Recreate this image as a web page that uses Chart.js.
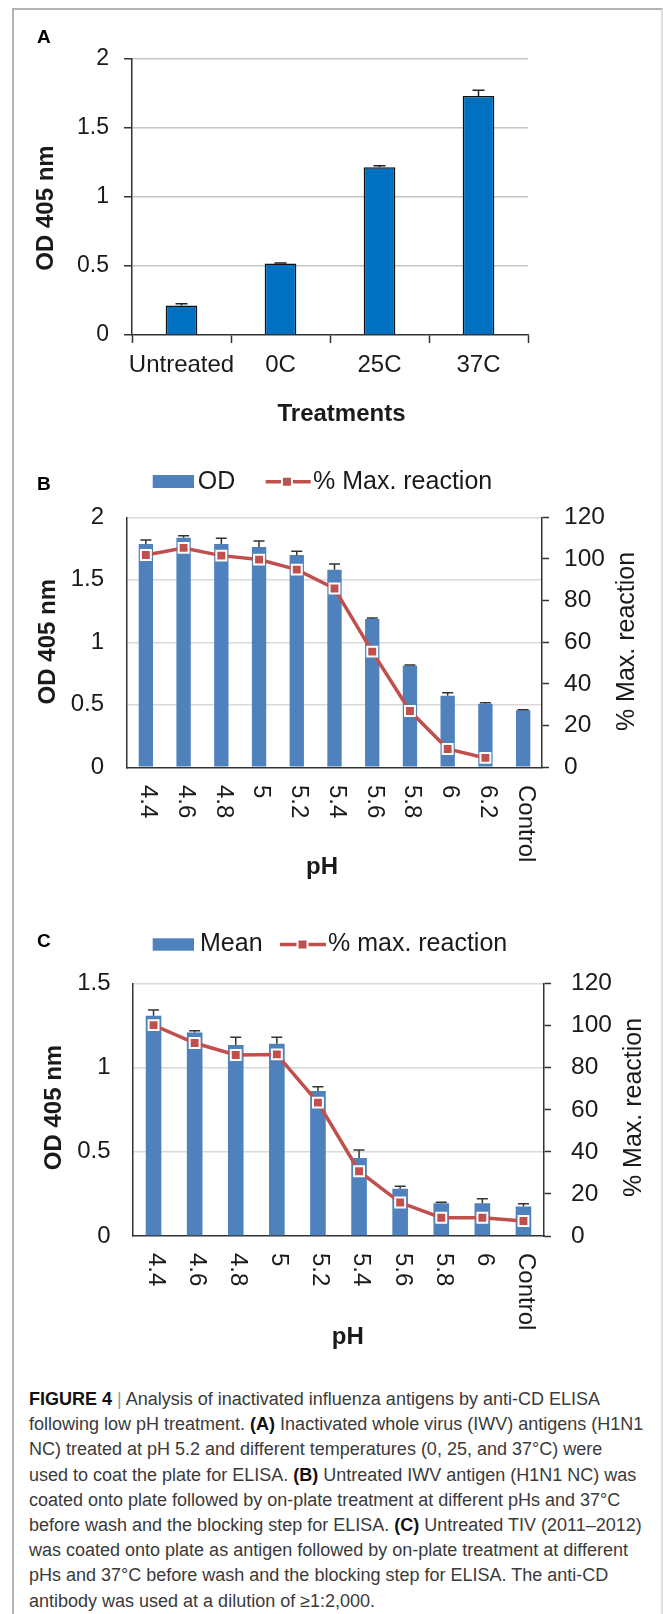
<!DOCTYPE html>
<html>
<head>
<meta charset="utf-8">
<script src="https://cdn.jsdelivr.net/npm/chart.js@4.4.1/dist/chart.umd.min.js"></script>
<style>
  html, body { margin: 0; padding: 0; background: #fff; }
  body { width: 663px; height: 1614px; position: relative; overflow: hidden; font-family: "Liberation Sans", Arial, sans-serif; }
  .frame { position: absolute; left: 12px; top: 8px; width: 647px; height: 1700px; border-left: 2px solid #b4b4b4; border-top: 2px solid #b4b4b4; border-right: 2px solid #dedede; }
  .panel { position: absolute; left: 0; width: 663px; }
  .panel canvas { display: block; }
  .tag { position: absolute; left: 37px; font: bold 19px/19px "Liberation Sans", Arial, sans-serif; color: #000; }
  .caption { position: absolute; left: 29px; top: 1387px; font-size: 18px; line-height: 25.2px; color: #3a3a3a; white-space: nowrap; }
  .caption b { color: #111; }
  .caption .sep { color: #999; }
</style>
</head>
<body>
<div class="frame"></div>

<div class="panel" style="top:0"><canvas id="chartA" width="663" height="440"></canvas></div>
<div class="panel" style="top:440px"><canvas id="chartB" width="663" height="460"></canvas></div>
<div class="panel" style="top:900px"><canvas id="chartC" width="663" height="470"></canvas></div>

<div class="tag" style="top:26.5px">A</div>
<div class="tag" style="top:474px">B</div>
<div class="tag" style="top:930.5px">C</div>

<div class="caption"><b>FIGURE 4</b> <span class="sep">|</span> Analysis of inactivated influenza antigens by anti-CD ELISA<br>
following low pH treatment. <b>(A)</b> Inactivated whole virus (IWV) antigens (H1N1<br>
NC) treated at pH 5.2 and different temperatures (0, 25, and 37°C) were<br>
used to coat the plate for ELISA. <b>(B)</b> Untreated IWV antigen (H1N1 NC) was<br>
coated onto plate followed by on-plate treatment at different pHs and 37°C<br>
before wash and the blocking step for ELISA. <b>(C)</b> Untreated TIV (2011–2012)<br>
was coated onto plate as antigen followed by on-plate treatment at different<br>
pHs and 37°C before wash and the blocking step for ELISA. The anti-CD<br>
antibody was used at a dilution of ≥1:2,000.</div>

<script>
// Panel A
const treatments = ['Untreated', '0C', '25C', '37C'];
const odA = [0.213, 0.519, 1.215, 1.732];
const errA = [0.014, 0.003, 0.012, 0.041];
const odTicksA = [0, 0.5, 1, 1.5, 2];

// Panel B
const phB = ['4.4', '4.6', '4.8', '5', '5.2', '5.4', '5.6', '5.8', '6', '6.2', 'Control'];
const odB = [1.787, 1.837, 1.787, 1.763, 1.699, 1.581, 1.187, 0.813, 0.573, 0.509, 0.456];
const errB = [0.032, 0.016, 0.045, 0.048, 0.029, 0.046, 0.008, 0.006, 0.024, 0.008, 0.005];
const pctB = [101.9, 105.3, 101.6, 99.7, 94.9, 85.8, 55.5, 27.0, 8.8, 4.5, null];
const seriesB = ['OD', '% Max. reaction'];
const odTicksB = [0, 0.5, 1, 1.5, 2];

// Panel C
const phC = ['4.4', '4.6', '4.8', '5', '5.2', '5.4', '5.6', '5.8', '6', 'Control'];
const meanC = [1.309, 1.209, 1.134, 1.142, 0.861, 0.464, 0.281, 0.195, 0.195, 0.175];
const errC = [0.034, 0.010, 0.047, 0.039, 0.026, 0.047, 0.014, 0.006, 0.027, 0.016];
const pctC = [100.2, 91.7, 86.0, 86.3, 63.4, 30.8, 15.9, 8.7, 8.7, 7.1];
const seriesC = ['Mean', '% max. reaction'];
const odTicksC = [0, 0.5, 1, 1.5];

const pctTicks = [0, 20, 40, 60, 80, 100, 120];

const FONT = '"Liberation Sans", Arial, sans-serif';
const AXIS = '#333';
const TEXT = '#1a1a1a';
Chart.defaults.font.family = FONT;
Chart.defaults.color = TEXT;

// plain numbers like the original: 0, 0.5, 1, 1.5, 2
const plainTick = v => String(Math.round(v * 100) / 100);

// error bars (upper only) drawn right after the bar dataset
const errorBars = {
  id: 'errorBars',
  afterDatasetDraw(chart, args, opts) {
    if (args.index !== opts.dataset) return;
    const meta = args.meta;
    const yScale = chart.scales[meta.yAxisID];
    const values = chart.data.datasets[args.index].data;
    const ctx = chart.ctx;
    ctx.save();
    ctx.strokeStyle = opts.color || '#333';
    ctx.lineWidth = opts.width || 1.5;
    meta.data.forEach((bar, i) => {
      const err = opts.errors[i];
      if (!err) return;
      const top = yScale.getPixelForValue(values[i] + err);
      ctx.beginPath();
      ctx.moveTo(bar.x, bar.y);
      ctx.lineTo(bar.x, top);
      ctx.moveTo(bar.x - opts.cap, top);
      ctx.lineTo(bar.x + opts.cap, top);
      ctx.stroke();
    });
    ctx.restore();
  }
};

// axis titles, clockwise category labels and legend
const decor = {
  id: 'decor',
  afterDraw(chart, args, opts) {
    const ctx = chart.ctx;
    const area = chart.chartArea;
    ctx.save();

    if (opts.rotLabels) {
      const xs = chart.scales.x;
      ctx.font = '24px ' + FONT;
      ctx.fillStyle = TEXT;
      ctx.textAlign = 'left';
      ctx.textBaseline = 'middle';
      xs.ticks.forEach((t, i) => {
        ctx.save();
        ctx.translate(xs.getPixelForTick(i) + opts.rotLabels.dx, area.bottom + opts.rotLabels.gap);
        ctx.rotate(Math.PI / 2);
        ctx.fillText(xs.getLabelForValue(t.value), 0, 0);
        ctx.restore();
      });
    }

    (opts.titles || []).forEach(t => {
      ctx.save();
      ctx.font = t.font;
      ctx.fillStyle = TEXT;
      ctx.textAlign = 'center';
      ctx.textBaseline = t.baseline || 'middle';
      ctx.translate(t.x, t.y);
      if (t.rot) ctx.rotate(t.rot);
      ctx.fillText(t.text, 0, 0);
      ctx.restore();
    });

    (opts.legend || []).forEach(it => {
      const ds = chart.data.datasets[it.ds];
      if (it.kind === 'box') {
        ctx.fillStyle = ds.backgroundColor;
        ctx.fillRect(it.x, it.y, it.w, it.h);
      } else {
        ctx.strokeStyle = ds.borderColor;
        ctx.lineWidth = ds.borderWidth;
        ctx.beginPath();
        ctx.moveTo(it.x0, it.y);
        ctx.lineTo(it.x1, it.y);
        ctx.stroke();
        const s = 10;
        ctx.fillStyle = ds.pointBackgroundColor;
        ctx.strokeStyle = ds.pointBorderColor;
        ctx.lineWidth = ds.pointBorderWidth;
        ctx.beginPath();
        ctx.rect(it.mx - s / 2, it.y - s / 2, s, s);
        ctx.fill();
        ctx.stroke();
      }
      ctx.font = '25px ' + FONT;
      ctx.fillStyle = TEXT;
      ctx.textAlign = 'left';
      ctx.textBaseline = 'middle';
      ctx.fillText(ds.label, it.tx, it.ty);
    });

    ctx.restore();
  }
};

const base = {
  responsive: false,
  animation: false,
  events: []
};

const gridColor = light => c => (c.tick && c.tick.value === 0) ? 'rgba(0,0,0,0)' : light;

// ---- A ----
new Chart(document.getElementById('chartA'), {
  type: 'bar',
  data: {
    labels: treatments,
    datasets: [{
      label: 'OD',
      data: odA,
      backgroundColor: '#0070C0',
      borderColor: '#111',
      borderWidth: 1.5,
      barPercentage: 0.32,
      categoryPercentage: 1
    }]
  },
  options: {
    ...base,
    layout: { padding: { top: 59, left: 0, right: 135, bottom: 45 } },
    scales: {
      x: {
        grid: { drawOnChartArea: false, offset: true, tickLength: 8, tickColor: AXIS, tickWidth: 1.5 },
        border: { color: AXIS, width: 1.5 },
        ticks: { font: { size: 24 }, color: TEXT, padding: 8, minRotation: 0, maxRotation: 0, autoSkip: false },
        afterFit: s => { s.height = 60; }
      },
      y: {
        min: odTicksA[0],
        max: odTicksA[odTicksA.length - 1],
        ticks: { stepSize: odTicksA[1] - odTicksA[0], font: { size: 23 }, color: TEXT, padding: 15, callback: plainTick },
        grid: { color: gridColor('#c4c4c4'), lineWidth: 1.5, tickLength: 8, tickColor: AXIS, tickWidth: 1.5 },
        border: { color: AXIS, width: 1.5 },
        afterFit: s => { s.width = 132; }
      }
    },
    plugins: {
      legend: { display: false },
      tooltip: { enabled: false },
      errorBars: { dataset: 0, errors: errA, cap: 6, color: '#222', width: 1.5 },
      decor: {
        titles: [
          { text: 'OD 405 nm', x: 46.5, y: 208, rot: -Math.PI / 2, font: 'bold 24px ' + FONT },
          { text: 'Treatments', x: 341.5, y: 421, baseline: 'alphabetic', font: 'bold 24px ' + FONT }
        ]
      }
    }
  },
  plugins: [errorBars, decor]
});

// ---- B and C share the same build ----
function phChart(id, cfg) {
  new Chart(document.getElementById(id), {
    type: 'bar',
    data: {
      labels: cfg.labels,
      datasets: [{
        type: 'bar',
        label: cfg.names[0],
        data: cfg.bars,
        backgroundColor: '#4F81BD',
        borderWidth: 0,
        barPercentage: 0.38,
        categoryPercentage: 1,
        yAxisID: 'y',
        order: 1
      }, {
        type: 'line',
        label: cfg.names[1],
        data: cfg.pct,
        borderColor: '#C0504D',
        borderWidth: 3.5,
        tension: 0,
        pointStyle: 'rect',
        pointRadius: 7,
        pointBackgroundColor: '#C0504D',
        pointBorderColor: '#fff',
        pointBorderWidth: 2,
        yAxisID: 'y1',
        order: 0
      }]
    },
    options: {
      ...base,
      layout: { padding: cfg.padding },
      scales: {
        x: {
          grid: { display: false },
          border: { color: AXIS, width: 1.5 },
          ticks: { display: false },
          afterFit: s => { s.height = 30; }
        },
        y: {
          min: cfg.odTicks[0],
          max: cfg.odTicks[cfg.odTicks.length - 1],
          ticks: { stepSize: cfg.odTicks[1] - cfg.odTicks[0], font: { size: 24 }, color: TEXT, padding: cfg.leftPad, callback: plainTick },
          grid: { color: gridColor('#d9d9d9'), lineWidth: 1.5, drawTicks: false },
          border: { color: AXIS, width: 1.5 },
          afterFit: s => { s.width = cfg.leftW; }
        },
        y1: {
          position: 'right',
          min: pctTicks[0],
          max: pctTicks[pctTicks.length - 1],
          ticks: { stepSize: pctTicks[1] - pctTicks[0], font: { size: 24.5 }, color: TEXT, padding: cfg.rightPad, callback: plainTick },
          grid: { drawOnChartArea: false, tickLength: 7, tickColor: AXIS, tickWidth: 1.5 },
          border: { color: AXIS, width: 1.5 },
          afterFit: s => { s.width = 100; }
        }
      },
      plugins: {
        legend: { display: false },
        tooltip: { enabled: false },
        errorBars: { dataset: 0, errors: cfg.errors, cap: 5.5, color: '#333', width: 1.5 },
        decor: {
          rotLabels: { gap: cfg.labelGap, dx: 2 },
          titles: cfg.titles,
          legend: cfg.legend
        }
      }
    },
    plugins: [errorBars, decor]
  });
}

phChart('chartB', {
  labels: phB, bars: odB, errors: errB, pct: pctB, names: seriesB, odTicks: odTicksB,
  padding: { top: 77.3, left: 0, right: 21, bottom: 102.7 },
  leftW: 127, leftPad: 23, rightPad: 15, labelGap: 17.7,
  titles: [
    { text: 'OD 405 nm', x: 48.6, y: 201.7, rot: -Math.PI / 2, font: 'bold 24px ' + FONT },
    { text: '% Max. reaction', x: 627, y: 201.5, rot: -Math.PI / 2, font: '25px ' + FONT },
    { text: 'pH', x: 322, y: 433.5, baseline: 'alphabetic', font: 'bold 24px ' + FONT }
  ],
  legend: [
    { kind: 'box', ds: 0, x: 152.7, y: 35, w: 41.3, h: 13, tx: 197.7, ty: 42 },
    { kind: 'line', ds: 1, x0: 265.7, x1: 310.7, y: 41.7, mx: 287, tx: 313, ty: 42 }
  ]
});

phChart('chartC', {
  labels: phC, bars: meanC, errors: errC, pct: pctC, names: seriesC, odTicks: odTicksC,
  padding: { top: 83.5, left: 0, right: 19, bottom: 104 },
  leftW: 133, leftPad: 22.4, rightPad: 20, labelGap: 17,
  titles: [
    { text: 'OD 405 nm', x: 54, y: 207.5, rot: -Math.PI / 2, font: 'bold 24px ' + FONT },
    { text: '% Max. reaction', x: 634, y: 207.5, rot: -Math.PI / 2, font: '25px ' + FONT },
    { text: 'pH', x: 347.8, y: 444, baseline: 'alphabetic', font: 'bold 24px ' + FONT }
  ],
  legend: [
    { kind: 'box', ds: 0, x: 152.7, y: 38.3, w: 41.3, h: 12.4, tx: 200, ty: 44.5 },
    { kind: 'line', ds: 1, x0: 280, x1: 326, y: 44.5, mx: 302.5, tx: 328, ty: 44.5 }
  ]
});
</script>
</body>
</html>
